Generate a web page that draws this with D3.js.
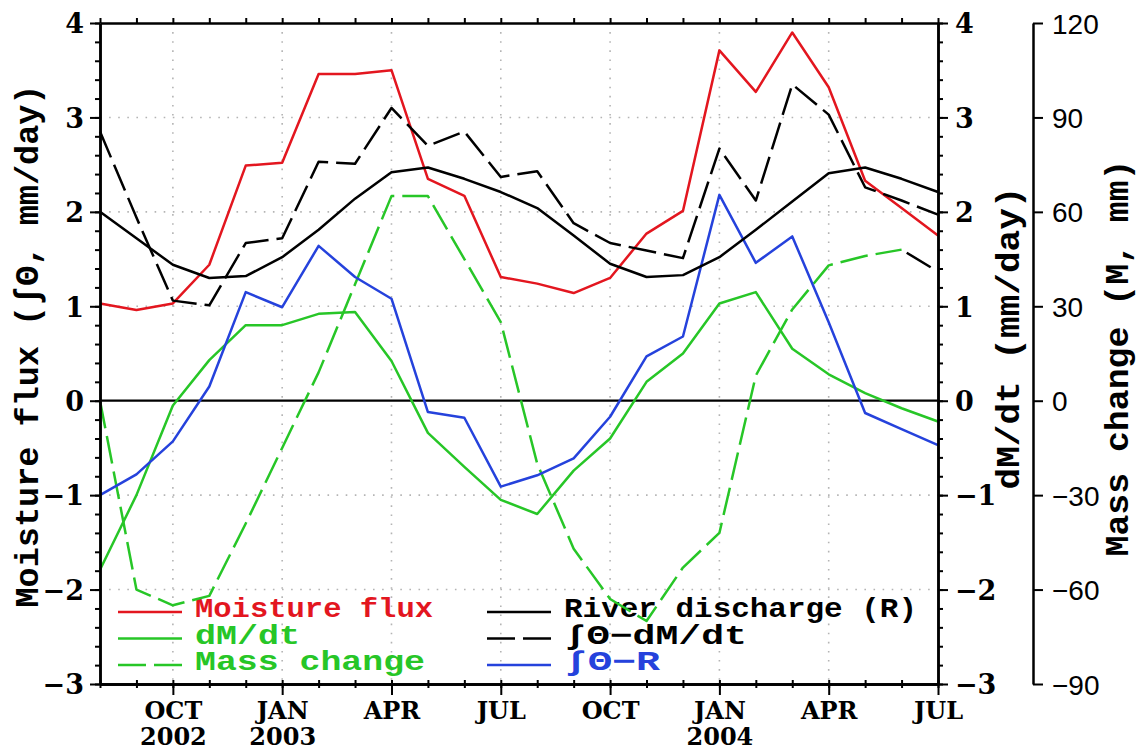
<!DOCTYPE html>
<html>
<head>
<meta charset="utf-8">
<script src="https://cdnjs.cloudflare.com/ajax/libs/d3/7.8.5/d3.min.js"></script>
<style>
  body { margin: 0; background: #fff; }
</style>
</head>
<body>
<div id="chart"></div>
<script>
// monthly values, Aug 2002 - Jul 2004
const months = ["2002-08","2002-09","2002-10","2002-11","2002-12","2003-01","2003-02","2003-03",
                "2003-04","2003-05","2003-06","2003-07","2003-08","2003-09","2003-10","2003-11",
                "2003-12","2004-01","2004-02","2004-03","2004-04","2004-05","2004-06","2004-07"];

const moistureFlux   = [1.03, 0.96, 1.03, 1.44, 2.49, 2.52, 3.46, 3.46, 3.50, 2.35, 2.17, 1.31,
                        1.24, 1.14, 1.30, 1.77, 2.01, 3.71, 3.27, 3.90, 3.32, 2.33, 2.04, 1.75];
const riverDischarge = [2.00, 1.72, 1.44, 1.30, 1.32, 1.52, 1.81, 2.14, 2.42, 2.47, 2.35, 2.21,
                        2.04, 1.75, 1.45, 1.31, 1.33, 1.52, 1.81, 2.11, 2.41, 2.47, 2.35, 2.21];
const fluxMinusDmdt  = [2.85, 1.94, 1.06, 1.01, 1.67, 1.72, 2.53, 2.51, 3.10, 2.70, 2.85, 2.37,
                        2.43, 1.88, 1.67, 1.59, 1.51, 2.67, 2.12, 3.35, 3.03, 2.26, 2.12, 1.97];
const fluxMinusR     = [-1.00, -0.78, -0.43, 0.15, 1.15, 0.99, 1.64, 1.31, 1.08, -0.12, -0.18, -0.91,
                        -0.79, -0.61, -0.17, 0.47, 0.68, 2.18, 1.46, 1.74, 0.83, -0.13, -0.30, -0.47];
const dMdt           = [-1.79, -1.00, -0.05, 0.43, 0.80, 0.80, 0.92, 0.94, 0.42, -0.34, -0.70, -1.05,
                        -1.20, -0.74, -0.40, 0.20, 0.50, 1.03, 1.15, 0.55, 0.28, 0.08, -0.08, -0.22];
// mass change in mm (right-most axis)
const massChange     = [0, -60, -65, -62, -39, -15, 9, 37, 65, 65, 45, 25,
                        -20, -47, -63, -70, -53, -42, 8, 29, 43, 46, 48, 41];

const tickMonths      = ["2002-10","2003-01","2003-04","2003-07","2003-10","2004-01","2004-04","2004-07"];
const tickMonthLabels = ["OCT","JAN","APR","JUL","OCT","JAN","APR","JUL"];
const tickYearLabels  = ["2002","2003","","","","2004","",""];
const fluxTicks = [-3, -2, -1, 0, 1, 2, 3, 4];
const massTicks = [-90, -60, -30, 0, 30, 60, 90, 120];

const RED = "#e3161f", GREEN = "#27c627", BLUE = "#2542dc", BLACK = "#000";
const DASH = "28,8";
const monoFont = "'Liberation Mono', 'DejaVu Sans Mono', monospace";
const serifFont = "'DejaVu Serif', serif";

const width = 1140, height = 751;
const plotLeft = 100, plotRight = 938, plotTop = 23, plotBottom = 684, massX = 1033;

const svg = d3.select("#chart").append("svg")
    .attr("width", width)
    .attr("height", height)
    .style("display", "block");

const x = d3.scalePoint().domain(months).range([plotLeft, plotRight]);
const y = d3.scaleLinear().domain([-3, 4]).range([plotBottom, plotTop]);
const yMass = d3.scaleLinear().domain([-90, 120]).range([plotBottom, plotTop]);

const minus = s => String(s).replace("-", "\u2212");

// dotted grid
const grid = svg.append("g").attr("class", "grid")
    .attr("stroke", "#b4b4b4")
    .attr("stroke-width", 1.6)
    .attr("stroke-dasharray", "1.6,7.5");
grid.selectAll(".vgrid")
    .data(tickMonths.slice(0, -1))
    .enter().append("line")
    .attr("x1", d => x(d)).attr("x2", d => x(d))
    .attr("y1", plotTop).attr("y2", plotBottom);
grid.selectAll(".hgrid")
    .data(fluxTicks.filter(d => d !== 0 && d !== -3 && d !== 4))
    .enter().append("line")
    .attr("x1", plotLeft).attr("x2", plotRight)
    .attr("y1", d => y(d)).attr("y2", d => y(d));

svg.append("line")
    .attr("x1", plotLeft).attr("x2", plotRight)
    .attr("y1", y(0)).attr("y2", y(0))
    .attr("stroke", "#000").attr("stroke-width", 2.2);

// legend (drawn under the data lines)
const legendItems = [
  {label: "Moisture flux", color: RED, dash: null, col: 0, row: 0, len: 238},
  {label: "dM/dt", color: GREEN, dash: null, col: 0, row: 1, len: 105},
  {label: "Mass change", color: GREEN, dash: DASH, col: 0, row: 2, len: 230},
  {label: "River discharge (R)", color: BLACK, dash: null, col: 1, row: 0, len: 353},
  {label: "\u222B\u0398\u2212dM/dt", color: BLACK, dash: DASH, col: 1, row: 1, len: 183},
  {label: "\u222B\u0398\u2212R", color: BLUE, dash: null, col: 1, row: 2, len: 96}
];
const legendCols = [118, 487];
const legend = svg.append("g").attr("class", "legend");
legendItems.forEach(function(item) {
  const lx = legendCols[item.col];
  const base = 617 + item.row * 26.5;
  legend.append("line")
      .attr("x1", lx).attr("x2", lx + 64)
      .attr("y1", base - 5).attr("y2", base - 5)
      .attr("stroke", item.color)
      .attr("stroke-width", 2.5)
      .attr("stroke-dasharray", item.dash);
  legend.append("text")
      .attr("x", lx + 77)
      .attr("y", base)
      .attr("fill", item.color)
      .attr("textLength", item.len)
      .attr("lengthAdjust", "spacingAndGlyphs")
      .style("font-family", monoFont)
      .style("font-weight", "bold")
      .style("font-size", "27px")
      .text(item.label);
});

// data lines
const line = d3.line()
    .x((d, i) => x(months[i]))
    .y(d => y(d));
const massLine = d3.line()
    .x((d, i) => x(months[i]))
    .y(d => yMass(d));

const lines = svg.append("g").attr("class", "series")
    .attr("fill", "none")
    .attr("stroke-width", 2.5)
    .attr("stroke-linejoin", "round");

lines.append("path").datum(moistureFlux).attr("d", line).attr("stroke", RED);
lines.append("path").datum(dMdt).attr("d", line).attr("stroke", GREEN);
lines.append("path").datum(massChange.slice(0, -1)).attr("d", massLine)
    .attr("stroke", GREEN).attr("stroke-dasharray", DASH);
// the last mass change segment is printed black in the original
lines.append("path")
    .datum(massChange.slice(-2).map((v, i) => ({v: v, m: months[months.length - 2 + i]})))
    .attr("d", d3.line().x(d => x(d.m)).y(d => yMass(d.v)))
    .attr("stroke", BLACK).attr("stroke-dasharray", "0,6,28,8");
lines.append("path").datum(fluxMinusR).attr("d", line).attr("stroke", BLUE);
lines.append("path").datum(riverDischarge).attr("d", line).attr("stroke", BLACK);
lines.append("path").datum(fluxMinusDmdt).attr("d", line)
    .attr("stroke", BLACK).attr("stroke-dasharray", DASH);

// axes
function styleAxis(g, fontSize, family, weight) {
  g.selectAll(".domain").attr("stroke-width", 2.5);
  g.selectAll(".tick line").attr("stroke-width", 2);
  g.selectAll("text")
      .style("font-family", family)
      .style("font-size", fontSize)
      .style("font-weight", weight)
      .attr("fill", "#000");
}

const minorFlux = d3.range(-3, 4.001, 0.2);

svg.append("g")
    .attr("transform", `translate(${plotLeft},0)`)
    .call(d3.axisLeft(y).tickValues(minorFlux).tickSize(5).tickSizeOuter(0).tickFormat(""))
    .call(g => g.selectAll(".tick line").attr("stroke-width", 2))
    .call(g => g.select(".domain").attr("stroke-width", 2.5));
svg.append("g")
    .attr("transform", `translate(${plotLeft},0)`)
    .call(d3.axisLeft(y).tickValues(fluxTicks).tickSize(10).tickSizeOuter(0).tickPadding(6).tickFormat(minus))
    .call(g => styleAxis(g, "27px", serifFont, "bold"))
    .call(g => g.selectAll("text").attr("dy", "0.36em"));

svg.append("g")
    .attr("transform", `translate(${plotRight},0)`)
    .call(d3.axisRight(y).tickValues(minorFlux).tickSize(5).tickSizeOuter(0).tickFormat(""))
    .call(g => g.selectAll(".tick line").attr("stroke-width", 2))
    .call(g => g.select(".domain").attr("stroke-width", 2.5));
svg.append("g")
    .attr("transform", `translate(${plotRight},0)`)
    .call(d3.axisRight(y).tickValues(fluxTicks).tickSize(10).tickSizeOuter(0).tickPadding(7).tickFormat(minus))
    .call(g => styleAxis(g, "27px", serifFont, "bold"))
    .call(g => g.selectAll("text").attr("dy", "0.36em"));

svg.append("g")
    .attr("transform", `translate(0,${plotTop})`)
    .call(d3.axisTop(x).tickSize(5).tickSizeOuter(0).tickFormat(""))
    .call(g => styleAxis(g, "24px", serifFont, "bold"));

svg.append("g")
    .attr("transform", `translate(0,${plotBottom})`)
    .call(d3.axisBottom(x).tickSize(4).tickSizeOuter(0).tickFormat(""))
    .call(g => styleAxis(g, "24px", serifFont, "bold"));
svg.append("g")
    .attr("transform", `translate(0,${plotBottom})`)
    .call(d3.axisBottom(x).tickSize(-4).tickSizeOuter(0).tickFormat(""))
    .call(g => styleAxis(g, "24px", serifFont, "bold"));

const xAxis = svg.append("g")
    .attr("transform", `translate(0,${plotBottom})`)
    .call(d3.axisBottom(x).tickValues(tickMonths).tickSize(11).tickSizeOuter(0).tickPadding(7)
          .tickFormat((d, i) => tickMonthLabels[i]))
    .call(g => styleAxis(g, "24px", serifFont, "bold"));
xAxis.selectAll(".tick text")
    .append("tspan")
    .attr("x", 0)
    .attr("dy", "1.08em")
    .text((d, i) => tickYearLabels[i]);

svg.append("g")
    .attr("transform", `translate(${massX},0)`)
    .call(d3.axisRight(yMass).tickValues(massTicks).tickSize(10).tickSizeOuter(0).tickPadding(9).tickFormat(minus))
    .call(g => styleAxis(g, "28px", "'Liberation Sans', Arial, sans-serif", "normal"))
    .call(g => g.selectAll("text").attr("dy", "0.36em"));

// axis titles
function title(tx, ty, len, label) {
  svg.append("text")
      .attr("transform", `translate(${tx},${ty}) rotate(-90)`)
      .attr("text-anchor", "middle")
      .attr("textLength", len)
      .attr("lengthAdjust", "spacingAndGlyphs")
      .style("font-family", monoFont)
      .style("font-weight", "bold")
      .style("font-size", "34px")
      .text(label);
}
title(38, 346, 523, "Moisture flux (\u222B\u0398, mm/day)");
title(1019, 338, 303, "dM/dt (mm/day)");
title(1128, 358, 397, "Mass change (M, mm)");
</script>
</body>
</html>
